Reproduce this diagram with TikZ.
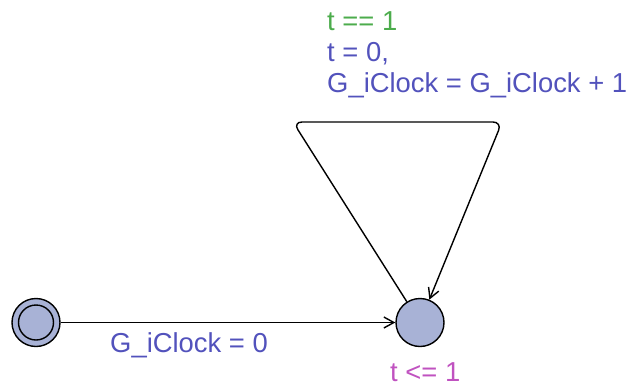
\documentclass[tikz,border=0pt]{standalone}
\usepackage{fontspec}
\setmainfont{Liberation Sans}
\usetikzlibrary{arrows.meta,positioning}
\definecolor{locfill}{RGB}{168,178,214}
\definecolor{guardgreen}{RGB}{76,172,76}
\definecolor{updblue}{RGB}{82,82,188}
\definecolor{invpink}{RGB}{192,82,192}

\begin{document}
\begin{tikzpicture}[x=1pt, y=-1pt,
  loc/.style={circle, draw, fill=locfill, minimum size=48pt, inner sep=0pt, line width=1.4pt},
  lbl/.style={font=\fontsize{27.4}{31}\selectfont, inner sep=0pt, align=left},
  edge/.style={line width=1.4pt, -{Straight Barb[length=10pt,width=11pt]}}]
\useasboundingbox (0,0) rectangle (630,386);
% locations
\node[loc] (init) at (36,322.5) {};
\node[circle, draw, minimum size=35pt, inner sep=0pt, line width=1.4pt] (initin) at (init) {};
\node[loc] (clk) at (420,322.5) {};
\node[lbl, text=invpink, anchor=base west] (inv) at (390,381) {t <= 1};
% edge into the clock location
\draw[edge] (init) -- (clk);
\node[lbl, text=updblue, anchor=base west] (reset) at (110,352) {G\_iClock = 0};
% self loop
\coordinate (lt) at (293,122);
\coordinate (rt) at (502,122);
\draw[edge, rounded corners=9pt] (clk) -- (lt) -- (rt) -- (clk);
\node[lbl, text=guardgreen, anchor=base west] (guard) at (327,30) {t == 1};
\node[lbl, text=updblue, anchor=base west] (upd) at (327,92) {t = 0,\\G\_iClock = G\_iClock + 1};
\end{tikzpicture}
\end{document}
